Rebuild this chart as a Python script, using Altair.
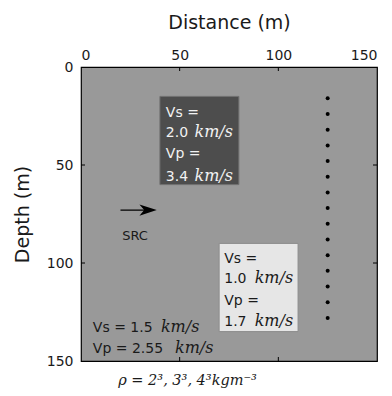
import altair as alt
import pandas as pd

# ---- data ----
x_ticks = [0, 50, 100, 150]
y_ticks = [0, 50, 100, 150]
inner_ticks = [50, 100]

rec_depth = [16, 24, 32, 40, 48, 56, 64, 72, 80, 88, 96, 104, 112, 120, 128]
rec_x = [125] * len(rec_depth)

box_x1 = [40, 70]
box_x2 = [80, 110]
box_y1 = [15, 90]
box_y2 = [60, 135]
box_fill = ["#4d4d4d", "#e6e6e6"]
box_stroke = ["#707070", "#8c8c8c"]

lbl_text = ["Vs =", "2.0", "Vp =", "3.4", "Vs =", "1.0", "Vp =", "1.7", "Vs = 1.5", "Vp = 2.55"]
lbl_x = [43, 43, 43, 43, 72.6, 72.6, 72.6, 72.6, 6, 6]
lbl_y = [25.4, 35.6, 46.4, 58, 100.2, 110.4, 121.4, 132, 135, 145.8]
lbl_color = ["#f2f2f2"] * 4 + ["#1a1a1a"] * 6

unit_text = ["km/s"] * 6
unit_x = [57.5, 57.5, 88, 88, 40.5, 47.6]
unit_y = [35.6, 58, 110.4, 132, 135, 145.8]
unit_color = ["#f2f2f2"] * 2 + ["#1a1a1a"] * 4

src_x0, src_x1, src_head, src_y = [20], [36], [34], [73]
src_label, src_lx, src_ly = ["SRC"], [27.4], [86]

rho_text, rho_x, rho_y = ["ρ = 2³, 3³, 4³kgm⁻³"], [54], [160]

W, H = 296, 294
SANS = "DejaVu Sans"
SERIF = "DejaVu Serif"

xs = alt.Scale(domain=[0, 150], nice=False, zero=False)
ys = alt.Scale(domain=[0, 150], nice=False, zero=False, reverse=True)

rec_df = pd.DataFrame({"x": rec_x, "y": rec_depth})
box_df = pd.DataFrame({"x1": box_x1, "x2": box_x2, "y1": box_y1, "y2": box_y2,
                       "fill": box_fill, "stroke": box_stroke})
lbl_df = pd.DataFrame({"t": lbl_text, "x": lbl_x, "y": lbl_y, "c": lbl_color})
unit_df = pd.DataFrame({"t": unit_text, "x": unit_x, "y": unit_y, "c": unit_color})
arrow_df = pd.DataFrame({"x0": src_x0, "x1": src_x1, "h": src_head, "y": src_y})
src_df = pd.DataFrame({"t": src_label, "x": src_lx, "y": src_ly})
rho_df = pd.DataFrame({"t": rho_text, "x": rho_x, "y": rho_y})
tick_df = pd.DataFrame({"v": inner_ticks})

base_x = alt.X("x:Q", scale=xs, title="Distance (m)",
               axis=alt.Axis(orient="top", values=x_ticks, tickSize=0, domain=False,
                             labelFont=SANS, labelFontSize=14, labelColor="#1a1a1a",
                             labelPadding=5, titleFont=SANS, titleFontSize=19,
                             titleFontWeight="normal", titleColor="#1a1a1a",
                             titlePadding=16, grid=False))
base_y = alt.Y("y:Q", scale=ys, title="Depth (m)",
               axis=alt.Axis(values=y_ticks, tickSize=0, domain=False,
                             labelFont=SANS, labelFontSize=14, labelColor="#1a1a1a",
                             labelPadding=8, titleFont=SANS, titleFontSize=19,
                             titleFontWeight="normal", titleColor="#1a1a1a",
                             titlePadding=14, grid=False))

boxes = alt.Chart(box_df).mark_rect(strokeWidth=1).encode(
    x=alt.X("x1:Q", scale=xs), x2="x2:Q",
    y=alt.Y("y1:Q", scale=ys), y2="y2:Q",
    fill=alt.Fill("fill:N", scale=None), stroke=alt.Stroke("stroke:N", scale=None))

receivers = alt.Chart(rec_df).mark_point(filled=True, size=16, color="black", opacity=1).encode(
    x=base_x, y=base_y)

labels = alt.Chart(lbl_df).mark_text(font=SANS, fontSize=14, align="left",
                                      baseline="alphabetic").encode(
    x=alt.X("x:Q", scale=xs), y=alt.Y("y:Q", scale=ys), text="t:N",
    color=alt.Color("c:N", scale=None))

units = alt.Chart(unit_df).mark_text(font=SERIF, fontSize=16, fontStyle="italic",
                                     align="left", baseline="alphabetic").encode(
    x=alt.X("x:Q", scale=xs), y=alt.Y("y:Q", scale=ys), text="t:N",
    color=alt.Color("c:N", scale=None))

shaft = alt.Chart(arrow_df).mark_rule(color="black", strokeWidth=1.4).encode(
    x=alt.X("x0:Q", scale=xs), x2="x1:Q", y=alt.Y("y:Q", scale=ys))
head = alt.Chart(arrow_df).mark_point(
    shape="M 1 0 L -1 -0.65 L -0.45 0 L -1 0.65 Z", filled=True, size=300,
    color="black", opacity=1).encode(
    x=alt.X("h:Q", scale=xs), y=alt.Y("y:Q", scale=ys))

src = alt.Chart(src_df).mark_text(font=SANS, fontSize=13, color="#1a1a1a",
                                  baseline="middle").encode(
    x=alt.X("x:Q", scale=xs), y=alt.Y("y:Q", scale=ys), text="t:N")

rho = alt.Chart(rho_df).mark_text(font=SERIF, fontSize=14.5, fontStyle="italic",
                                  color="#1a1a1a", baseline="middle").encode(
    x=alt.X("x:Q", scale=xs), y=alt.Y("y:Q", scale=ys), text="t:N")

tk = alt.Chart(tick_df)
t_top = tk.mark_rule(color="black").encode(x=alt.X("v:Q", scale=xs), y=alt.value(0), y2=alt.value(4))
t_bot = tk.mark_rule(color="black").encode(x=alt.X("v:Q", scale=xs), y=alt.value(H), y2=alt.value(H - 4))
t_left = tk.mark_rule(color="black").encode(y=alt.Y("v:Q", scale=ys), x=alt.value(0), x2=alt.value(4))
t_right = tk.mark_rule(color="black").encode(y=alt.Y("v:Q", scale=ys), x=alt.value(W), x2=alt.value(W - 4))

chart = alt.layer(
    receivers, boxes, labels, units, shaft, head, src, rho,
    t_top, t_bot, t_left, t_right
).properties(
    width=W, height=H,
    background="white",
).configure_view(
    fill="#999999", stroke="black", strokeWidth=1.2
)

chart.save("out.html", embed_options={"renderer": "svg", "actions": False})
